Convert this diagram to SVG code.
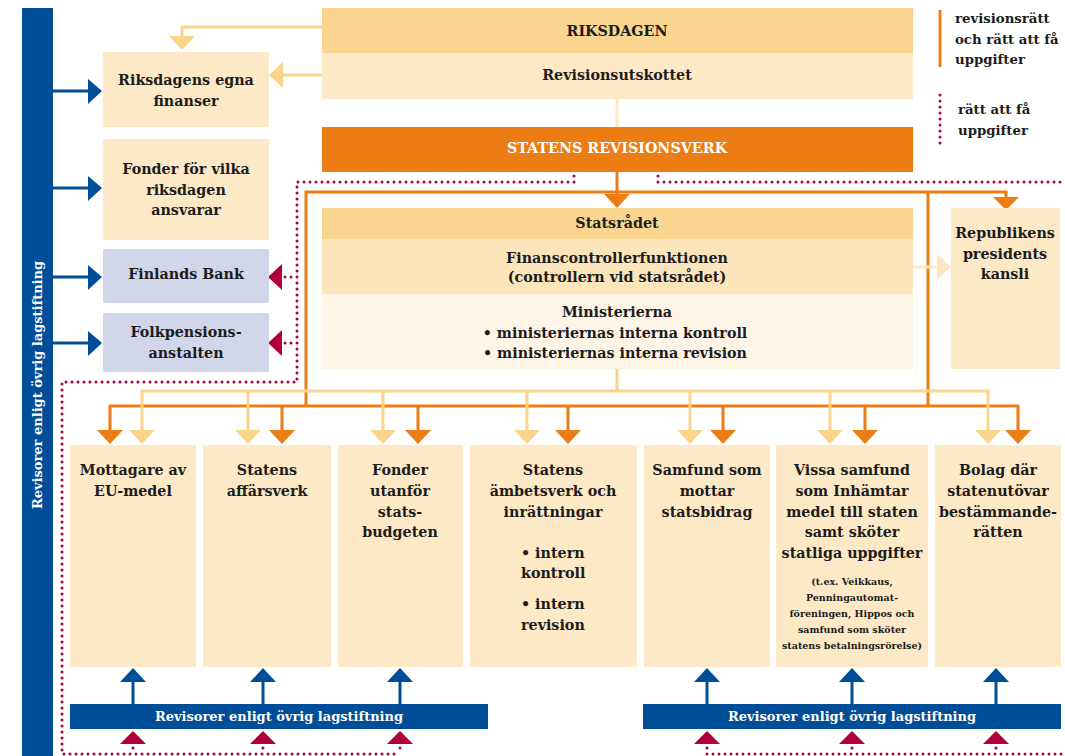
<svg xmlns="http://www.w3.org/2000/svg" width="1065" height="756" viewBox="0 0 1065 756">
<style>
.t{font-family:"DejaVu Serif","Liberation Serif",serif;font-weight:bold;font-size:14.3px;fill:#1c1c1c;text-anchor:middle}
.w{fill:#fff}
.l{text-anchor:start}
.lg{font-size:13.3px}
.sm{font-size:9.5px}
.b13{font-size:13px}
.or{stroke:#ec7d14;stroke-width:3;fill:none}
.lt{stroke:#fbd48c;stroke-width:3;fill:none}
.lp{stroke:#fde6c2;stroke-width:3;fill:none}
.dot{stroke:#b0003b;stroke-width:3;stroke-linecap:round;stroke-dasharray:0 6;fill:none}
.bl{stroke:#004d98;stroke-width:3;fill:none}
.fOr{fill:#ec7d14}.fLt{fill:#fbd48c}.fLp{fill:#fde6c2}.fBl{fill:#004d98}.fRd{fill:#b0003b}
.box{fill:#fee9c7}.lav{fill:#d1d6ea}.hdr{fill:#fad58f}
</style>
<rect width="1065" height="756" fill="#fff"/>

<g id="left-bar">
<rect x="22" y="8" width="31" height="748" class="fBl"/>
<text class="t w b13" transform="rotate(-90 37 385)" x="37" y="390">Revisorer enligt övrig lagstiftning</text>
</g>

<g id="legend">
<line x1="940" y1="10" x2="940" y2="67" class="or"/>
<text class="t l lg" x="955" y="23">revisionsrätt</text>
<text class="t l lg" x="955" y="44">och rätt att få</text>
<text class="t l lg" x="955" y="64">uppgifter</text>
<line x1="940" y1="95" x2="940" y2="146" class="dot"/>
<text class="t l lg" x="958" y="114">rätt att få</text>
<text class="t l lg" x="958" y="135">uppgifter</text>
</g>

<g id="connectors">
<path d="M322,27 H182 V37" class="lt"/>
<polygon points="169,36 195,36 182,50" class="fLt"/>
<path d="M322,75 H282" class="lt"/>
<polygon points="283,62 283,88 269,75" class="fLt"/>
<line x1="617" y1="99" x2="617" y2="127" class="lp"/>
<line x1="53" y1="91" x2="90" y2="91" class="bl"/><polygon points="88,79 88,104 102,91" class="fBl"/>
<line x1="53" y1="188" x2="90" y2="188" class="bl"/><polygon points="88,176 88,201 102,188" class="fBl"/>
<line x1="53" y1="277" x2="90" y2="277" class="bl"/><polygon points="88,265 88,290 102,277" class="fBl"/>
<line x1="53" y1="343" x2="90" y2="343" class="bl"/><polygon points="88,331 88,356 102,343" class="fBl"/>
<line x1="617" y1="172" x2="617" y2="196" class="or"/>
<polygon points="604,194 630,194 617,208" class="fOr"/>
<path d="M306,406 V192 H1006 V199" class="or"/>
<polygon points="993,197 1019,197 1006,210" class="fOr"/>
<line x1="928" y1="192" x2="928" y2="406" class="or"/>
<path d="M110,430 V406 H1018 V430 M282,406 V430 M418,406 V430 M568,406 V430 M723,406 V430 M865,406 V430" class="or"/>
<polygon points="97,430 123,430 110,444" class="fOr"/>
<polygon points="269,430 295,430 282,444" class="fOr"/>
<polygon points="405,430 431,430 418,444" class="fOr"/>
<polygon points="555,430 581,430 568,444" class="fOr"/>
<polygon points="710,430 736,430 723,444" class="fOr"/>
<polygon points="852,430 878,430 865,444" class="fOr"/>
<polygon points="1005,430 1031,430 1018,444" class="fOr"/>
<line x1="617" y1="369" x2="617" y2="391" class="lt"/>
<path d="M142,430 V391 H988 V430 M248,391 V430 M383,391 V430 M527,391 V430 M690,391 V430 M830,391 V430" class="lt"/>
<polygon points="129,430 155,430 142,444" class="fLt"/>
<polygon points="235,430 261,430 248,444" class="fLt"/>
<polygon points="370,430 396,430 383,444" class="fLt"/>
<polygon points="514,430 540,430 527,444" class="fLt"/>
<polygon points="677,430 703,430 690,444" class="fLt"/>
<polygon points="817,430 843,430 830,444" class="fLt"/>
<polygon points="975,430 1001,430 988,444" class="fLt"/>
<line x1="913" y1="267" x2="939" y2="267" class="lp"/>
<polygon points="937,254 937,280 951,267" class="fLp"/>
<line x1="133" y1="704" x2="133" y2="682" class="bl"/><polygon points="120,682 146,682 133,668" class="fBl"/>
<line x1="263" y1="704" x2="263" y2="682" class="bl"/><polygon points="250,682 276,682 263,668" class="fBl"/>
<line x1="400" y1="704" x2="400" y2="682" class="bl"/><polygon points="387,682 413,682 400,668" class="fBl"/>
<line x1="707" y1="704" x2="707" y2="682" class="bl"/><polygon points="694,682 720,682 707,668" class="fBl"/>
<line x1="852" y1="704" x2="852" y2="682" class="bl"/><polygon points="839,682 865,682 852,668" class="fBl"/>
<line x1="996" y1="704" x2="996" y2="682" class="bl"/><polygon points="983,682 1009,682 996,668" class="fBl"/>
<path d="M574,176 V182 H297 V382 H62 V754 H400" class="dot"/>
<path d="M291,277 H284 M291,343 H284" class="dot"/>
<polygon points="282,264 282,290 268,277" class="fRd"/>
<polygon points="282,330 282,356 268,343" class="fRd"/>
<path d="M658,176 V182 H1065" class="dot"/>
<path d="M707,748 V754 H1065 M852,748 V754 M996,748 V754 M133,748 V754 M263,748 V754 M400,748 V754" class="dot"/>
<polygon points="120,744 146,744 133,731" class="fRd"/>
<polygon points="250,744 276,744 263,731" class="fRd"/>
<polygon points="387,744 413,744 400,731" class="fRd"/>
<polygon points="694,744 720,744 707,731" class="fRd"/>
<polygon points="839,744 865,744 852,731" class="fRd"/>
<polygon points="983,744 1009,744 996,731" class="fRd"/>
</g>

<g id="riksdagen">
<rect x="322" y="8" width="591" height="45" class="hdr"/>
<rect x="322" y="53" width="591" height="46" fill="#fde9c6"/>
<text class="t" x="617" y="36">RIKSDAGEN</text>
<text class="t" x="617" y="80">Revisionsutskottet</text>
</g>

<g id="revisionsverk">
<rect x="322" y="127" width="591" height="45" class="fOr"/>
<text class="t w" x="617" y="153">STATENS REVISIONSVERK</text>
</g>

<g id="riksdagens-egna-finanser">
<rect x="103" y="52" width="166" height="75" class="box"/>
<text class="t" x="186" y="85">Riksdagens egna</text>
<text class="t" x="186" y="106">finanser</text>
</g>

<g id="fonder-riksdagen">
<rect x="103" y="139" width="166" height="101" class="box"/>
<text class="t" x="186" y="174">Fonder för vilka</text>
<text class="t" x="186" y="195">riksdagen</text>
<text class="t" x="186" y="215">ansvarar</text>
</g>

<g id="finlands-bank">
<rect x="103" y="249" width="166" height="54" class="lav"/>
<text class="t" x="186" y="279">Finlands Bank</text>
</g>

<g id="folkpensionsanstalten">
<rect x="103" y="313" width="166" height="59" class="lav"/>
<text class="t" x="186" y="337">Folkpensions-</text>
<text class="t" x="186" y="358">anstalten</text>
</g>

<g id="statsradet">
<rect x="322" y="208" width="591" height="31" class="hdr"/>
<rect x="322" y="239" width="591" height="55" fill="#fde5bb"/>
<rect x="322" y="294" width="591" height="75" fill="#fef5e7"/>
<text class="t" x="617" y="228">Statsrådet</text>
<text class="t" x="617" y="263">Finanscontrollerfunktionen</text>
<text class="t" x="617" y="282">(controllern vid statsrådet)</text>
<text class="t" x="617" y="317">Ministerierna</text>
<text class="t" x="615" y="338">•  ministeriernas interna kontroll</text>
<text class="t" x="615" y="358">•  ministeriernas interna revision</text>
</g>

<g id="republikens-presidents-kansli">
<rect x="951" y="208" width="109" height="161" fill="#fde9c6"/>
<text class="t" x="1005" y="238">Republikens</text>
<text class="t" x="1005" y="259">presidents</text>
<text class="t" x="1005" y="279">kansli</text>
</g>

<g id="mottagare-eu">
<rect x="70" y="445" width="126" height="222" class="box"/>
<text class="t" x="133" y="475">Mottagare av</text>
<text class="t" x="133" y="496">EU-medel</text>
</g>

<g id="statens-affarsverk">
<rect x="203" y="445" width="128" height="222" class="box"/>
<text class="t" x="267" y="475">Statens</text>
<text class="t" x="267" y="496">affärsverk</text>
</g>

<g id="fonder-utanfor">
<rect x="338" y="445" width="125" height="222" class="box"/>
<text class="t" x="400" y="475">Fonder</text>
<text class="t" x="400" y="496">utanför</text>
<text class="t" x="400" y="517">stats-</text>
<text class="t" x="400" y="537">budgeten</text>
</g>

<g id="statens-ambetsverk">
<rect x="470" y="445" width="167" height="222" class="box"/>
<text class="t" x="553" y="475">Statens</text>
<text class="t" x="553" y="496">ämbetsverk och</text>
<text class="t" x="553" y="517">inrättningar</text>
<text class="t l" x="521" y="558">•  intern</text>
<text class="t l" x="521" y="578">kontroll</text>
<text class="t l" x="521" y="609">•  intern</text>
<text class="t l" x="521" y="630">revision</text>
</g>

<g id="samfund-statsbidrag">
<rect x="644" y="445" width="126" height="222" class="box"/>
<text class="t" x="707" y="475">Samfund som</text>
<text class="t" x="707" y="496">mottar</text>
<text class="t" x="707" y="517">statsbidrag</text>
</g>

<g id="vissa-samfund">
<rect x="776" y="445" width="152" height="222" class="box"/>
<text class="t" x="852" y="475">Vissa samfund</text>
<text class="t" x="852" y="496">som Inhämtar</text>
<text class="t" x="852" y="517">medel till staten</text>
<text class="t" x="852" y="537">samt sköter</text>
<text class="t" x="852" y="558">statliga uppgifter</text>
<text class="t sm" x="852" y="585">(t.ex. Veikkaus,</text>
<text class="t sm" x="852" y="601">Penningautomat-</text>
<text class="t sm" x="852" y="617">föreningen, Hippos och</text>
<text class="t sm" x="852" y="633">samfund som sköter</text>
<text class="t sm" x="852" y="649">statens betalningsrörelse)</text>
</g>

<g id="bolag">
<rect x="935" y="445" width="126" height="222" class="box"/>
<text class="t" x="998" y="475">Bolag där</text>
<text class="t" x="998" y="496">statenutövar</text>
<text class="t" x="998" y="517">bestämmande-</text>
<text class="t" x="998" y="537">rätten</text>
</g>

<g id="revisorer-left">
<rect x="70" y="704" width="418" height="25" class="fBl"/>
<text class="t w b13" x="279" y="721">Revisorer enligt övrig lagstiftning</text>
</g>

<g id="revisorer-right">
<rect x="643" y="704" width="418" height="25" class="fBl"/>
<text class="t w b13" x="852" y="721">Revisorer enligt övrig lagstiftning</text>
</g>
</svg>
